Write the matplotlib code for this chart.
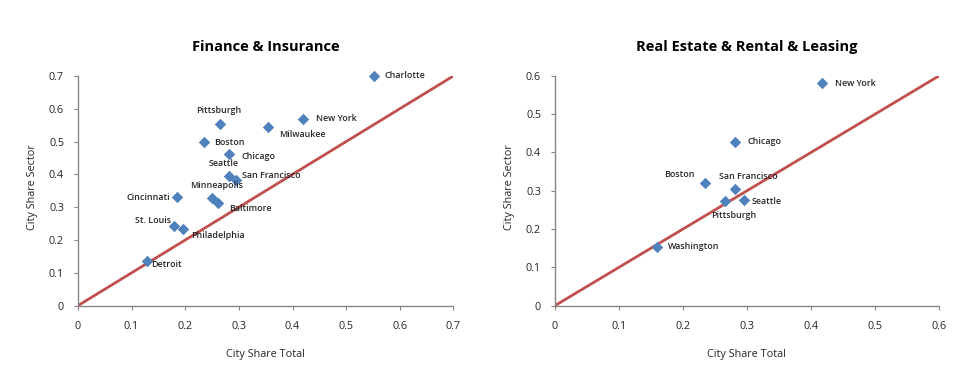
import matplotlib.pyplot as plt

# Finance & Insurance
fin_cities = ["Charlotte", "Pittsburgh", "New York", "Milwaukee", "Boston", "Chicago",
              "Seattle", "San Francisco", "Cincinnati", "Minneapolis", "Baltimore",
              "St. Louis", "Philadelphia", "Detroit"]
fin_total = [0.551, 0.265, 0.420, 0.354, 0.235, 0.282, 0.282, 0.295, 0.185, 0.250,
             0.261, 0.179, 0.195, 0.128]
fin_sector = [0.700, 0.553, 0.570, 0.544, 0.498, 0.462, 0.396, 0.384, 0.330, 0.329,
              0.312, 0.243, 0.235, 0.135]

# Real Estate & Rental & Leasing
re_cities = ["New York", "Chicago", "Boston", "San Francisco", "Pittsburgh", "Seattle",
             "Washington"]
re_total = [0.418, 0.281, 0.234, 0.281, 0.265, 0.295, 0.159]
re_sector = [0.581, 0.428, 0.320, 0.305, 0.272, 0.275, 0.154]

# label offsets in points (dx, dy, ha)
fin_offsets = {
    "Charlotte": (8, 0, "left"), "Pittsburgh": (-1, 10, "center"),
    "New York": (9, 0, "left"), "Milwaukee": (8, -5, "left"),
    "Boston": (7, 0, "left"), "Chicago": (9, -2, "left"),
    "Seattle": (-4, 9, "center"), "San Francisco": (4, 3, "left"),
    "Cincinnati": (-5, 0, "right"), "Minneapolis": (3, 9, "center"),
    "Baltimore": (8, -4, "left"), "St. Louis": (-2, 4, "right"),
    "Philadelphia": (6, -5, "left"), "Detroit": (3, -2, "left"),
}
re_offsets = {
    "New York": (9, 0, "left"), "Chicago": (9, 0, "left"),
    "Boston": (-7, 6, "right"), "San Francisco": (10, 9, "center"),
    "Pittsburgh": (7, -10, "center"), "Seattle": (6, -1, "left"),
    "Washington": (8, 0, "left"),
}

blue = "#4F81BD"
red = "#C0504D"
grey = "#868686"
txt = "#262626"
plt.rcParams['font.family'] = ['Open Sans', 'DejaVu Sans']

fig = plt.figure(figsize=(9.77, 3.75), dpi=100)
ax1 = fig.add_axes([0.0798, 0.185, 0.3843, 0.6125])
ax2 = fig.add_axes([0.568, 0.185, 0.393, 0.6125])

panels = [
    (ax1, "Finance & Insurance", fin_cities, fin_total, fin_sector, fin_offsets, 0.7, 38),
    (ax2, "Real Estate & Rental & Leasing", re_cities, re_total, re_sector, re_offsets, 0.6, 515),
]

for ax, title, cities, xs, ys, offs, lim, ylab_x in panels:
    ax.plot([0, lim], [0, lim], color=red, lw=2, zorder=2)
    ax.scatter(xs, ys, marker="D", s=34, color=blue, zorder=3, linewidths=0, clip_on=False)
    for c, x, y in zip(cities, xs, ys):
        dx, dy, ha = offs[c]
        ax.annotate(c, (x, y), xytext=(dx, dy), textcoords="offset points",
                    ha=ha, va="center", fontsize=6.4, fontweight="semibold",
                    color=txt, zorder=4)
    ax.set_xlim(0, lim)
    ax.set_ylim(0, lim)
    ticks = [i / 10 for i in range(int(round(lim * 10)) + 1)]
    labels = ["0"] + [f"{t:.1f}" for t in ticks[1:]]
    ax.set_xticks(ticks)
    ax.set_xticklabels(labels)
    ax.set_yticks(ticks)
    ax.set_yticklabels(labels)
    for s in ["top", "right"]:
        ax.spines[s].set_visible(False)
    for s in ["left", "bottom"]:
        ax.spines[s].set_color(grey)
        ax.spines[s].set_linewidth(1)
    ax.tick_params(direction="out", length=3, color=grey, labelsize=7.8, labelcolor=txt)
    ax.tick_params(axis="x", pad=8)
    ax.tick_params(axis="y", pad=7)
    ax.set_title(title, fontsize=10.5, fontweight="bold", color="black", pad=18)
    ax.set_xlabel("City Share Total", fontsize=7.8, color=txt, labelpad=12)
    ax.set_ylabel("City Share Sector", fontsize=7.8, color=txt)
    ax.yaxis.set_label_coords(ylab_x / 977, 0.5, transform=fig.transFigure)

fig.savefig("out.png", dpi=100)
